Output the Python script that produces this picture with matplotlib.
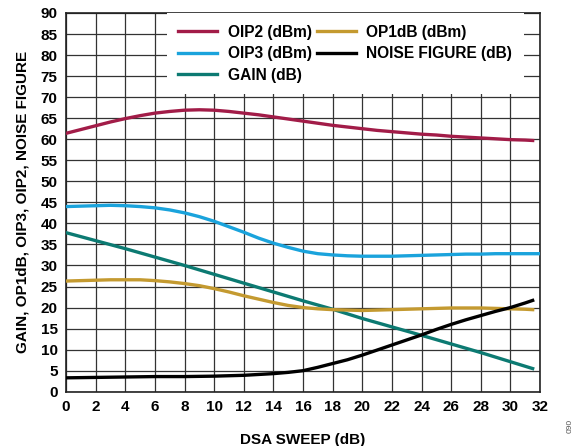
import matplotlib
matplotlib.use("Agg")
import matplotlib.pyplot as plt

plt.rcParams['font.family'] = ['Liberation Sans', 'DejaVu Sans']
plt.rcParams['font.weight'] = 'bold'

# DSA attenuation settings (dB)
x_oip2 = [0, 1, 2, 3, 4, 5, 6, 7, 8, 9, 10, 11, 12, 13, 14, 15, 16, 17, 18, 19, 20,
          21, 22, 23, 24, 25, 26, 27, 28, 29, 30, 31, 31.5]
oip2 = [61.4, 62.3, 63.2, 64.1, 64.9, 65.6, 66.2, 66.6, 66.9, 67.0, 66.9, 66.6, 66.2,
        65.8, 65.3, 64.8, 64.3, 63.8, 63.3, 62.9, 62.5, 62.1, 61.8, 61.5, 61.2, 61.0,
        60.7, 60.5, 60.3, 60.1, 59.9, 59.8, 59.7]

x_oip3 = [0, 1, 2, 3, 4, 5, 6, 7, 8, 9, 10, 11, 12, 13, 14, 15, 16, 17, 18, 19, 20,
          21, 22, 23, 24, 25, 26, 27, 28, 29, 30, 31, 32]
oip3 = [44.0, 44.1, 44.2, 44.3, 44.2, 44.0, 43.7, 43.2, 42.5, 41.6, 40.5, 39.2, 37.9,
        36.5, 35.3, 34.3, 33.4, 32.8, 32.5, 32.3, 32.2, 32.2, 32.2, 32.3, 32.4, 32.5,
        32.6, 32.7, 32.7, 32.8, 32.8, 32.8, 32.8]

x_gain = [0, 4, 8, 12, 16, 18, 20, 24, 28, 31.5]
gain = [37.8, 34.0, 30.0, 25.8, 21.6, 19.6, 17.4, 13.4, 9.3, 5.5]

x_op1db = [0, 1, 2, 3, 4, 5, 6, 7, 8, 9, 10, 11, 12, 13, 14, 15, 16, 17, 18, 19, 20,
           21, 22, 23, 24, 25, 26, 27, 28, 29, 30, 31, 31.5]
op1db = [26.3, 26.4, 26.5, 26.6, 26.6, 26.6, 26.4, 26.1, 25.7, 25.2, 24.5, 23.7, 22.8,
         22.0, 21.2, 20.5, 20.0, 19.7, 19.5, 19.4, 19.3, 19.4, 19.5, 19.6, 19.7, 19.8,
         19.9, 19.9, 19.9, 19.8, 19.7, 19.6, 19.5]

x_nf = [0, 2, 4, 6, 8, 10, 11, 12, 13, 14, 15, 16, 17, 18, 19, 20, 21, 22, 23, 24, 25,
        26, 27, 28, 29, 30, 31, 31.5]
nf = [3.3, 3.4, 3.5, 3.6, 3.6, 3.7, 3.8, 3.9, 4.1, 4.3, 4.6, 5.0, 5.8, 6.7, 7.6, 8.7,
      9.9, 11.1, 12.3, 13.5, 14.8, 16.0, 17.1, 18.1, 19.1, 20.0, 21.1, 21.7]

x_ticks = list(range(0, 33, 2))
y_ticks = list(range(0, 91, 5))

fig = plt.figure(figsize=(5.77, 4.46), dpi=100)
ax = fig.add_axes([0.1144, 0.1217, 0.8216, 0.8492])

lw = 2.4
ax.plot(x_oip2, oip2, color='#A21C48', lw=lw, label='OIP2 (dBm)', zorder=3)
ax.plot(x_oip3, oip3, color='#1AA3DC', lw=lw, label='OIP3 (dBm)', zorder=3)
ax.plot(x_gain, gain, color='#0C7A72', lw=lw, label='GAIN (dB)', zorder=3)
ax.plot(x_op1db, op1db, color='#C49A30', lw=lw, label='OP1dB (dBm)', zorder=3)
ax.plot(x_nf, nf, color='#000000', lw=lw, label='NOISE FIGURE (dB)', zorder=3)

ax.set_xlim(0, 32)
ax.set_ylim(0, 90)
ax.set_xticks(x_ticks)
ax.set_yticks(y_ticks)
ax.tick_params(axis='both', length=0, labelsize=11, pad=6)
for lab in ax.get_xticklabels() + ax.get_yticklabels():
    lab.set_fontweight('bold')
ax.grid(True, color='#333333', lw=0.9, zorder=1)
ax.set_axisbelow(True)
for sp in ax.spines.values():
    sp.set_linewidth(1.2)
    sp.set_color('#222222')

ax.set_xlabel('DSA SWEEP (dB)', fontsize=11, fontweight='bold', labelpad=14)
ax.set_ylabel('GAIN, OP1dB, OIP3, OIP2, NOISE FIGURE', fontsize=11,
              fontweight='bold', labelpad=8)

leg = ax.legend(ncol=2, loc='upper right', bbox_to_anchor=(0.966, 1.0),
                borderaxespad=0, frameon=True, fancybox=False, framealpha=1,
                facecolor='white', edgecolor='none', fontsize=11.2,
                handlelength=2.5, columnspacing=0.3, handletextpad=0.7,
                labelspacing=0.42, borderpad=0.75)
leg.set_zorder(4)
for t in leg.get_texts():
    t.set_fontweight('bold')

fig.text(0.988, 0.045, '090', rotation=90, fontsize=6, color='#555555',
         ha='center', va='center', fontweight='normal')

fig.savefig('out.png', dpi=100)
